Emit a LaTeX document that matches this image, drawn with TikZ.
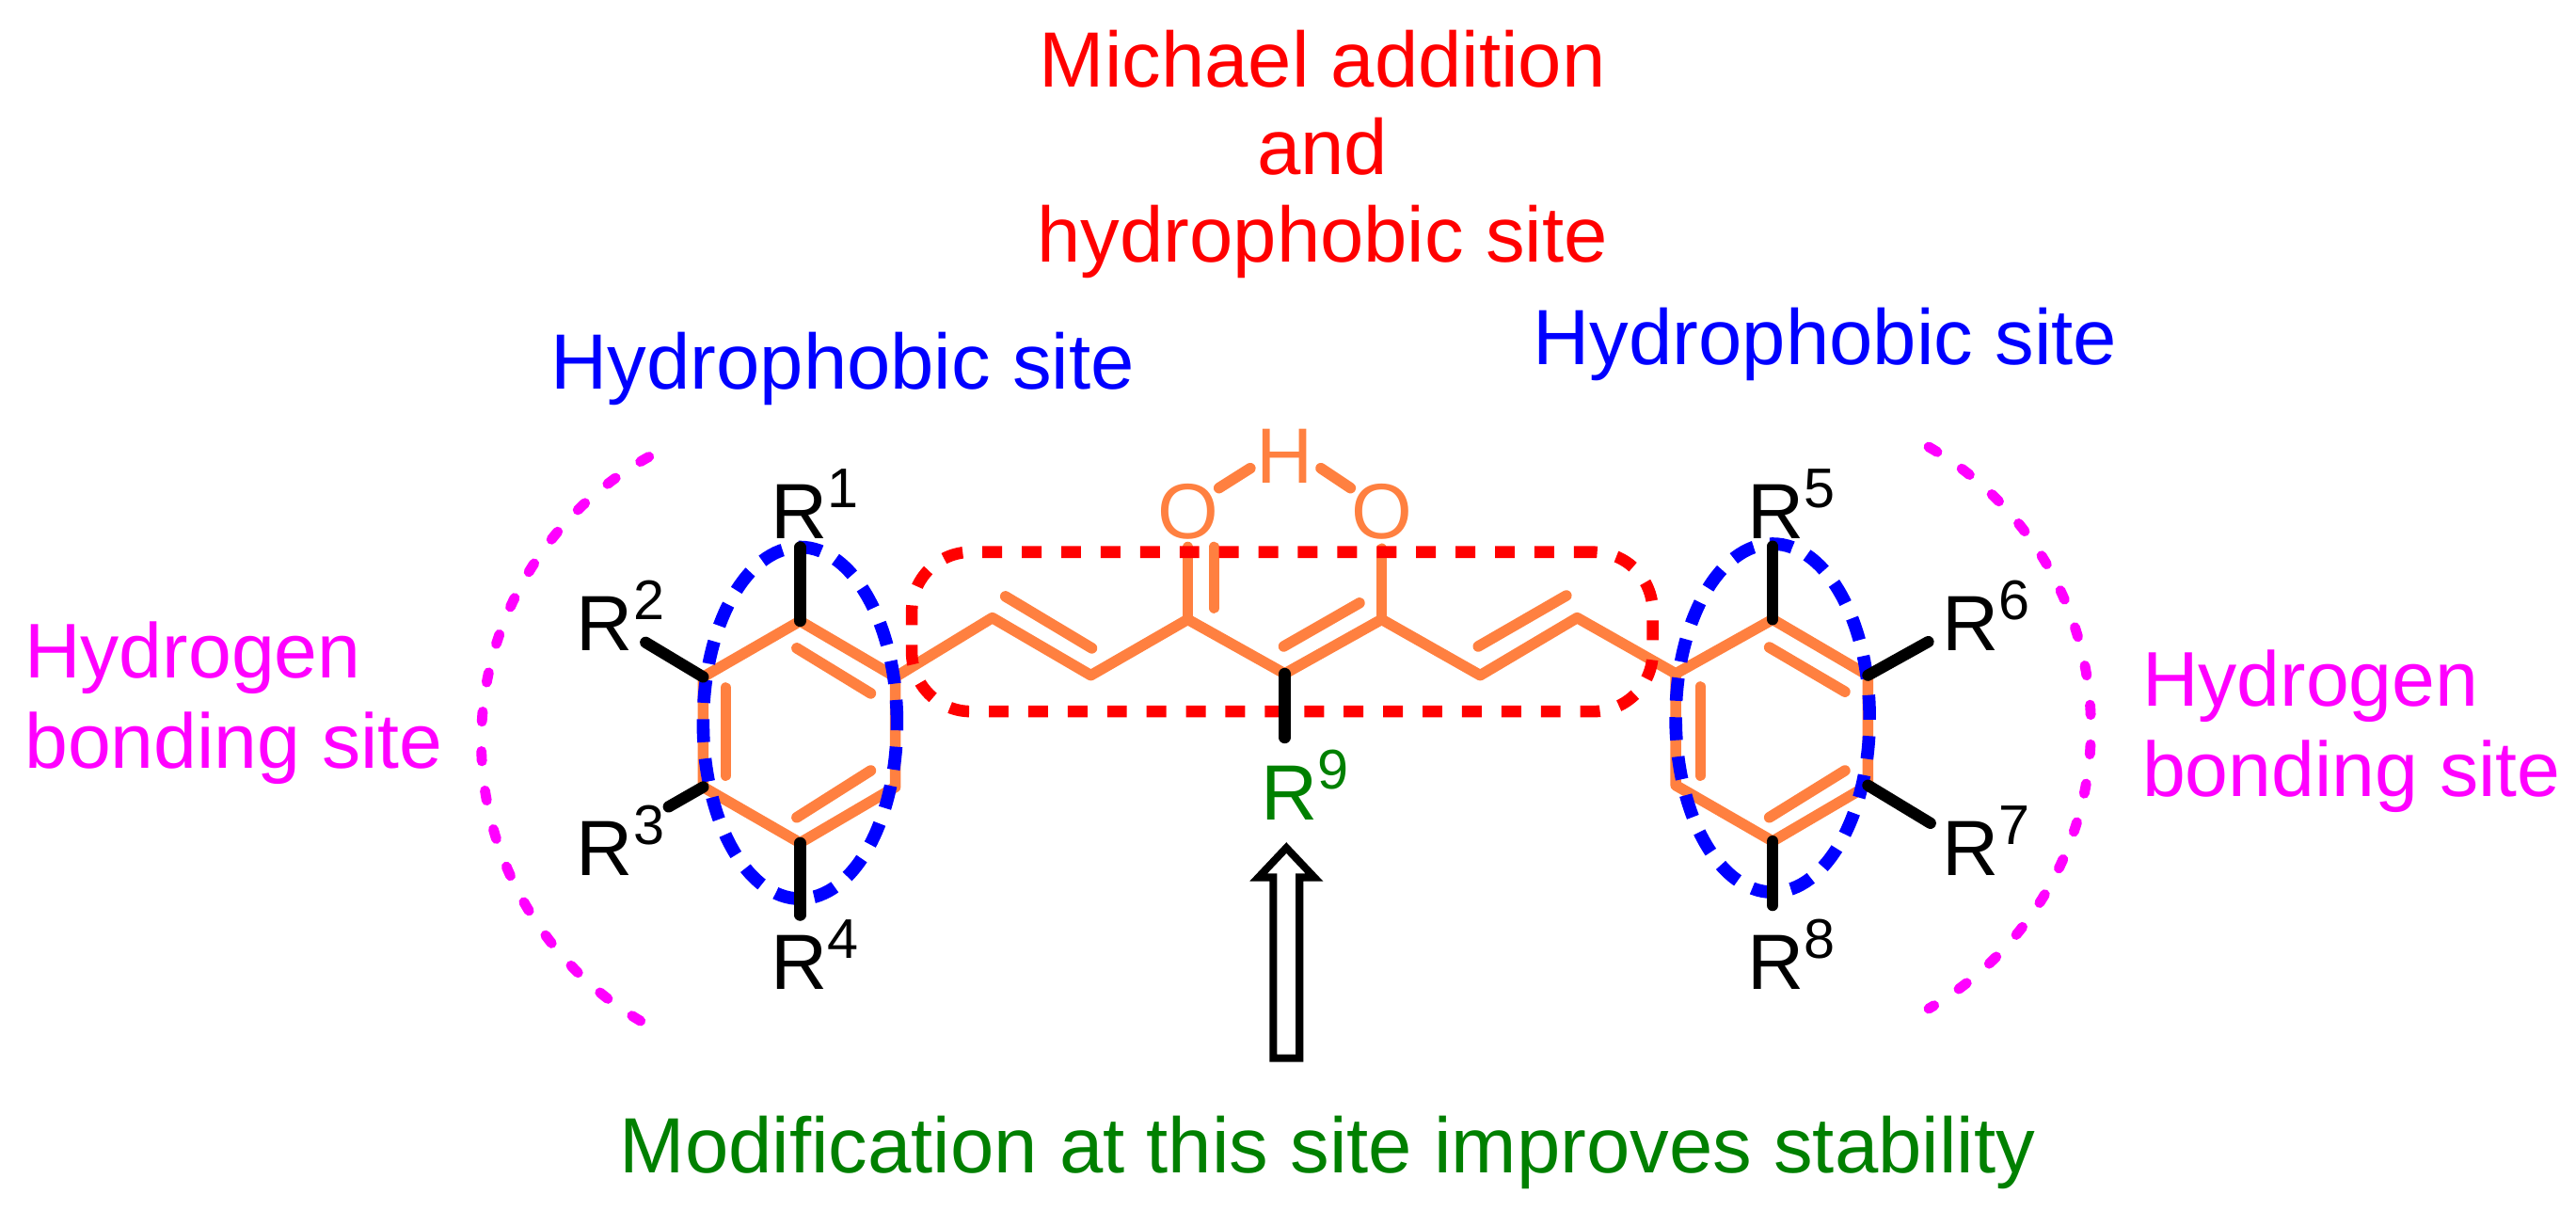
\documentclass[tikz,border=0pt]{standalone}
\usepackage{fontspec}
\usetikzlibrary{shapes.geometric}
\setmainfont{Liberation Sans}
\definecolor{cOrange}{HTML}{FF8040}
\definecolor{cGreen}{HTML}{008000}
\definecolor{cMagenta}{HTML}{FF00FF}
\newcommand{\Rsup}[1]{R\raisebox{9.5pt}{\fontsize{17}{17}\selectfont #1}}
\tikzset{
  lbl/.style={inner sep=0pt,outer sep=0pt,font=\fontsize{23.85}{26.6}\selectfont},
  maglbl/.style={lbl,text=cMagenta,align=left,anchor=west,font=\fontsize{23.6}{27.4}\selectfont},
  rlbl/.style={lbl,anchor=base west},
  bondo/.style={draw=cOrange,line width=3.3pt,line cap=round,line join=round},
  bondk/.style={draw=black,line width=3.5pt,line cap=round},
  blueell/.style={draw=blue,line width=3.9pt,dash pattern=on 7pt off 5pt},
  redbox/.style={draw=red,line width=3.6pt,dash pattern=on 6pt off 6pt,rounded corners=18pt},
  magarc/.style={draw=cMagenta,line width=3.1pt,line cap=round,dash pattern=on 3pt off 9.05pt},
}
\begin{document}
\begin{tikzpicture}[x=0.5pt,y=-0.5pt]
\useasboundingbox (0,0) rectangle (1568,736);
% skeleton atoms
\coordinate (a1) at (487,378);
\coordinate (a2) at (428,412);
\coordinate (a3) at (428,479);
\coordinate (a4) at (487,513);
\coordinate (a5) at (545,479);
\coordinate (a6) at (545,412);
\coordinate (c1) at (604,376);
\coordinate (c2) at (664,411);
\coordinate (c3) at (723,377);
\coordinate (c4) at (782,410);
\coordinate (c5) at (841,377);
\coordinate (c6) at (901,411);
\coordinate (c7) at (960,376);
\coordinate (b1) at (1079,377);
\coordinate (b2) at (1020,410);
\coordinate (b3) at (1020,478);
\coordinate (b4) at (1079,512);
\coordinate (b5) at (1137,478);
\coordinate (b6) at (1137,411);
% texts
\node[lbl,text=red,align=center] (michael) at (805,94) {Michael addition\\and\\hydrophobic site};
\node[lbl,text=blue,anchor=base] (hphobl) at (513,237) {Hydrophobic site};
\node[lbl,text=blue,anchor=base] (hphobr) at (1111,222) {Hydrophobic site};
\node[maglbl] (hbondl) at (15,428) {Hydrogen\\bonding site};
\node[maglbl] (hbondr) at (1304,445) {Hydrogen\\bonding site};
\node[lbl,text=cGreen,anchor=base] (modif) at (808,714) {Modification at this site improves stability};
\node[rlbl] (r1) at (469.5,328) {\Rsup{1}};
\node[rlbl] (r2) at (351,396) {\Rsup{2}};
\node[rlbl] (r3) at (351,533) {\Rsup{3}};
\node[rlbl] (r4) at (469.5,602) {\Rsup{4}};
\node[rlbl] (r5) at (1063.5,328) {\Rsup{5}};
\node[rlbl] (r6) at (1182,396) {\Rsup{6}};
\node[rlbl] (r7) at (1182,533) {\Rsup{7}};
\node[rlbl] (r8) at (1063.5,602) {\Rsup{8}};
\node[rlbl,text=cGreen] (r9) at (767.5,499) {\Rsup{9}};
\node[lbl,text=cOrange,anchor=base] (o1) at (723,328) {O};
\node[lbl,text=cOrange,anchor=base] (o2) at (841,328) {O};
\node[lbl,text=cOrange,anchor=base] (hh) at (782,294) {H};
% orange skeleton
\draw[bondo] (a1)--(a2)--(a3)--(a4)--(a5)--(a6)--cycle;
\draw[bondo] (a6)--(c1)--(c2)--(c3)--(c4)--(c5)--(c6)--(c7)--(b2);
\draw[bondo] (b1)--(b2)--(b3)--(b4)--(b5)--(b6)--cycle;
\coordinate (e1a) at (485,394.5); \coordinate (e1b) at (530,422);
\coordinate (e2a) at (441.7,418.6); \coordinate (e2b) at (441.7,472);
\coordinate (e3a) at (485,497.5); \coordinate (e3b) at (530,469);
\coordinate (e4a) at (612,363); \coordinate (e4b) at (664.6,394.5);
\coordinate (e5a) at (739,333); \coordinate (e5b) at (739,370);
\coordinate (e6a) at (781.4,393.4); \coordinate (e6b) at (827.5,367);
\coordinate (e7a) at (899.8,393.4); \coordinate (e7b) at (953.4,362.5);
\coordinate (e8a) at (1077,394); \coordinate (e8b) at (1123,421);
\coordinate (e9a) at (1035,418); \coordinate (e9b) at (1035,472);
\coordinate (e10a) at (1077,497.5); \coordinate (e10b) at (1123,469);
\coordinate (o1b) at (723,333); \coordinate (o2b) at (841,334);
\coordinate (h1a) at (742,297); \coordinate (h1b) at (761,285);
\coordinate (h2a) at (804,285); \coordinate (h2b) at (822,297);
\foreach \i in {1,...,10} {\draw[bondo] (e\i a)--(e\i b);}
\draw[bondo] (c3)--(o1b);
\draw[bondo] (c5)--(o2b);
\draw[bondo] (h1a)--(h1b);
\draw[bondo] (h2a)--(h2b);
% highlights
\node[redbox,inner sep=0pt,minimum width=225.5pt,minimum height=48.5pt,shape=rectangle] (redrect) at (780.5,384.5) {};
\node[blueell,shape=ellipse,inner sep=0pt,minimum width=59pt,minimum height=107pt] (ell1) at (487,440) {};
\node[blueell,shape=ellipse,inner sep=0pt,minimum width=59pt,minimum height=106pt] (ell2) at (1079,437) {};
\draw[magarc] (395,278) arc[start angle=119,end angle=241,x radius=99pt,y radius=99pt];
\draw[magarc] (1174,272) arc[start angle=60,end angle=-60,x radius=98.7pt,y radius=98.7pt];
% black substituent bonds
\coordinate (k1) at (487,333); \coordinate (k2) at (393,391); \coordinate (k3) at (407,491);
\coordinate (k4) at (487,557); \coordinate (k5) at (1079,332.5); \coordinate (k6) at (1173.7,390.6);
\coordinate (k7) at (1175,501); \coordinate (k8) at (1079,551); \coordinate (k9) at (782,449);
\draw[bondk] (a1)--(k1);
\draw[bondk] (a2)--(k2);
\draw[bondk] (a3)--(k3);
\draw[bondk] (a4)--(k4);
\draw[bondk] (b1)--(k5);
\draw[bondk] (b6)--(k6);
\draw[bondk] (b5)--(k7);
\draw[bondk] (b4)--(k8);
\draw[bondk] (c4)--(k9);
% block arrow
\draw[line width=2.3pt,fill=white,line join=miter] (783,516) -- (800,534) -- (791,534) -- (791,644) -- (775,644) -- (775,534) -- (766,534) -- cycle;
\end{tikzpicture}
\end{document}
